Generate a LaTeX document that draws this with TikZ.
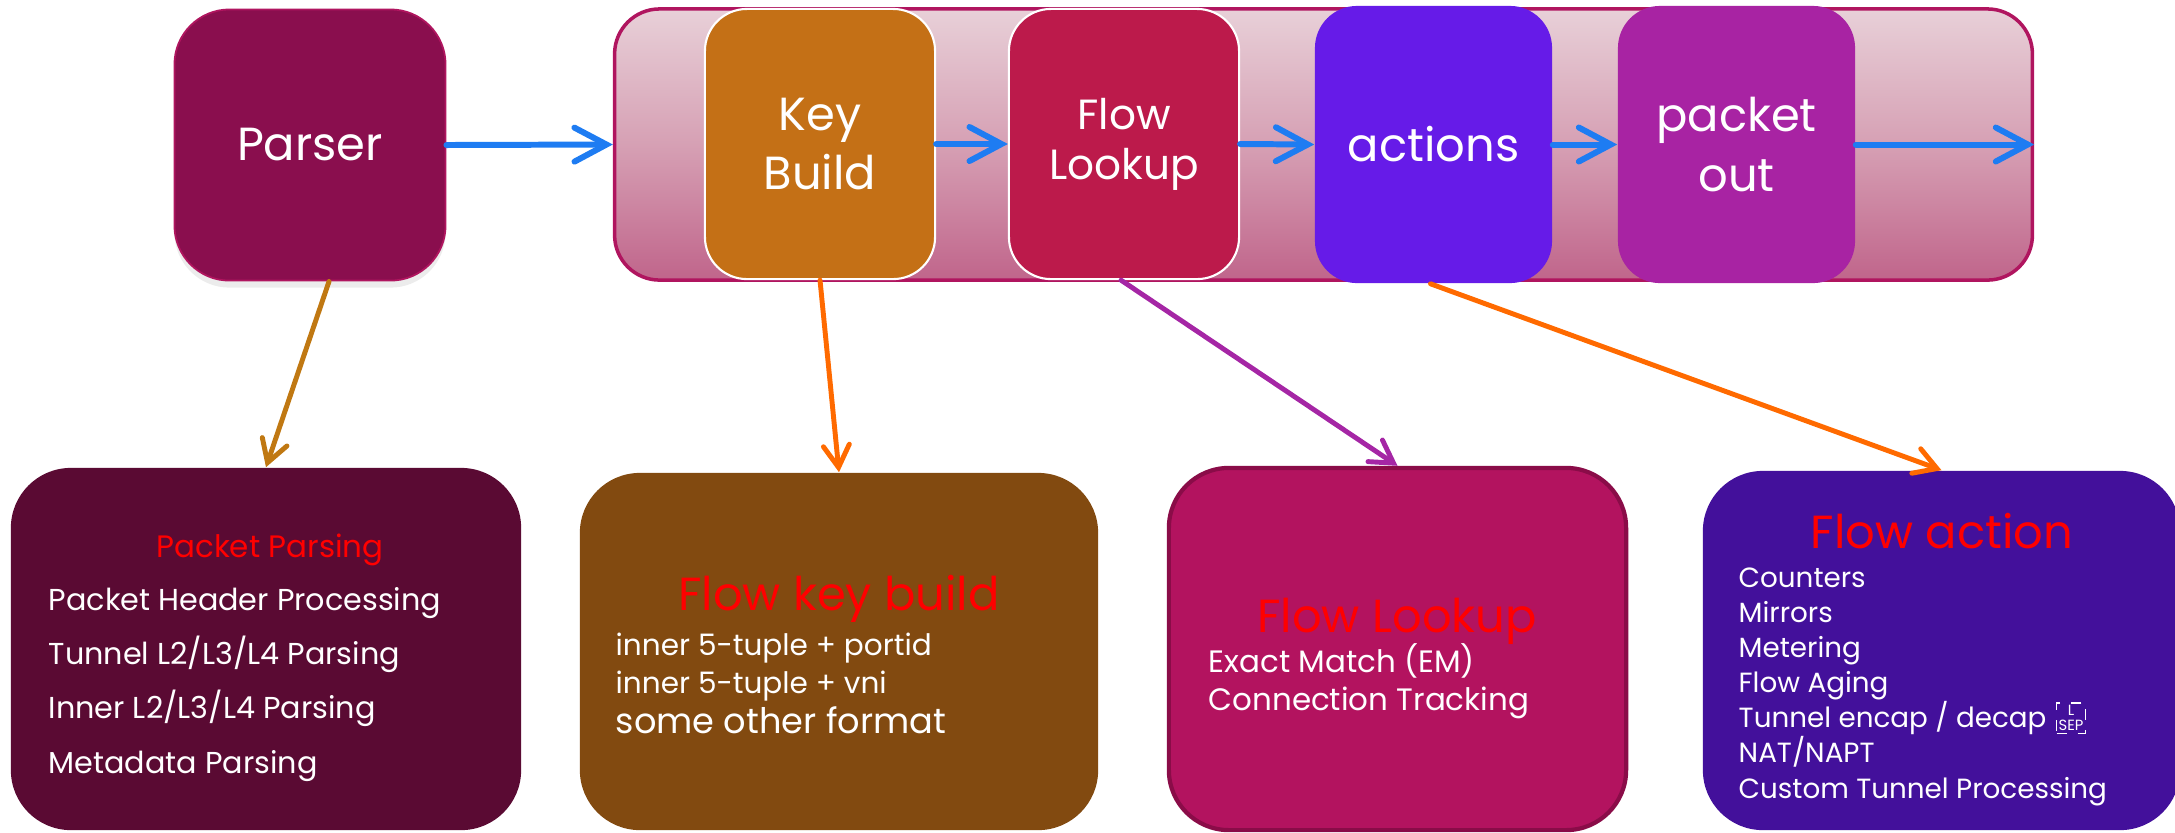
\documentclass[tikz,border=0pt]{standalone}
\usepackage{fontspec}
\setmainfont{Poppins}
\usepackage{tikz}
\usetikzlibrary{arrows.meta, positioning, calc, shadows}

\definecolor{parserplum}{RGB}{138, 14, 78}
\definecolor{railtop}{RGB}{232, 208, 216}
\definecolor{railmid}{RGB}{214, 160, 180}
\definecolor{railbot}{RGB}{192, 101, 139}
\definecolor{railedge}{RGB}{176, 21, 95}
\definecolor{keyorange}{RGB}{196, 112, 22}
\definecolor{lookupred}{RGB}{188, 26, 75}
\definecolor{actviolet}{RGB}{102, 27, 232}
\definecolor{outpurple}{RGB}{168, 35, 163}
\definecolor{flowblue}{RGB}{30, 124, 242}
\definecolor{ppwine}{RGB}{90, 10, 51}
\definecolor{fkbrown}{RGB}{130, 74, 16}
\definecolor{flmagenta}{RGB}{179, 19, 95}
\definecolor{fledge}{RGB}{138, 12, 72}
\definecolor{faindigo}{RGB}{67, 16, 155}
\definecolor{goldlink}{RGB}{192, 120, 18}
\definecolor{orangelink}{RGB}{255, 106, 0}
\definecolor{purplelink}{RGB}{165, 38, 165}
\definecolor{titlered}{RGB}{255, 0, 0}

\begin{document}
\begin{tikzpicture}[x=0.01cm, y=-0.01cm,
  stage/.style={rounded corners=0.42cm, inner sep=0pt, text=white, align=center,
    minimum width=2.30cm, minimum height=2.70cm, font=\fontsize{13.2}{16.8}\selectfont},
  detail/.style={rounded corners=0.6cm, inner sep=0pt},
  heading/.style={text=titlered, inner sep=0pt, anchor=base, font=\fontsize{13.2}{16}\selectfont},
  items/.style={text=white, inner sep=0pt, anchor=base west, align=left},
  pipe/.style={draw=flowblue, line width=1.7pt, line cap=round,
    -{Straight Barb[length=3.2mm, width=3.4mm, line cap=round]}},
  link/.style={line width=1.4pt, line cap=round,
    -{Straight Barb[length=2.2mm, width=2.6mm, line cap=round]}}]

  \useasboundingbox (0,0) rectangle (2175,832);

  % top row
  \node[stage, fill=parserplum, draw=railedge, line width=0.5pt, rounded corners=0.55cm,
    minimum width=2.71cm, minimum height=2.71cm,
    drop shadow={opacity=0.15, shadow xshift=0pt, shadow yshift=-2pt}] (parser) at (310,145) {Parser};

  \node[draw=railedge, line width=1pt, rounded corners=0.45cm, minimum width=14.17cm, minimum height=2.71cm,
    top color=railtop, bottom color=railbot, middle color=railmid, inner sep=0pt] (rail) at (1323.5,144.5) {};

  \node[stage, fill=keyorange, draw=white, line width=0.6pt] (keybuild) at (820,144) {Key\\Build};
  \node[stage, fill=lookupred, draw=white, line width=0.6pt, font=\fontsize{12}{14.2}\selectfont] (lookup) at (1124,144) {Flow\\Lookup};
  \node[stage, fill=actviolet, minimum width=2.37cm, minimum height=2.77cm] (actions) at (1433.5,144.5) {actions};
  \node[stage, fill=outpurple, minimum width=2.37cm, minimum height=2.77cm] (pktout) at (1736.5,144.5) {packet\\out};

  \draw[pipe] (parser.east) -- (rail.west);
  \draw[pipe] (keybuild.east) -- (lookup.west);
  \draw[pipe] (lookup.east) -- (actions.west);
  \draw[pipe] (actions.east) -- (pktout.west);
  \draw[pipe] (pktout.east) -- (rail.east);

  % bottom row
  \node[detail, fill=ppwine, minimum width=5.10cm, minimum height=3.62cm] (parsing) at (266,649) {};
  \node[detail, fill=fkbrown, minimum width=5.18cm, minimum height=3.57cm] (keyinfo) at (839,651.5) {};
  \node[detail, fill=flmagenta, draw=fledge, line width=1.2pt, minimum width=4.57cm, minimum height=3.62cm] (lookupinfo) at (1397.5,649) {};
  \node[detail, fill=faindigo, minimum width=4.77cm, minimum height=3.59cm] (actioninfo) at (1941.5,650.5) {};

  \node[heading, font=\fontsize{8.8}{11}\selectfont] (ppttl) at (270,557) {Packet Parsing};
  \node[items, font=\fontsize{8.6}{15.4}\selectfont] (ppitems) at (48,773)
    {Packet Header Processing\\Tunnel L2/L3/L4 Parsing\\Inner L2/L3/L4 Parsing\\Metadata Parsing};

  \node[heading] (fkttl) at (839,610) {Flow key build};
  \node[items, font=\fontsize{8.4}{10.8}\selectfont] (fkitems) at (615,733)
    {inner 5-tuple + portid\\inner 5-tuple + vni\\[0.5pt]{\fontsize{10}{12}\selectfont some other format}};

  \node[heading] (flttl) at (1397,632) {Flow Lookup};
  \node[items, font=\fontsize{8.8}{10.8}\selectfont] (flitems) at (1208,710)
    {Exact Match (EM)\\Connection Tracking};

  \node[heading] (fattl) at (1942,548) {Flow action};
  \node[items, font=\fontsize{7.9}{10}\selectfont] (faitems) at (1738,798)
    {Counters\\Mirrors\\Metering\\Flow Aging\\Tunnel encap / decap\\NAT/NAPT\\Custom Tunnel Processing};
  \node[draw=white, dashed, line width=0.3pt, inner sep=0.6pt, text=white, align=center,
    font=\fontsize{4.2}{4.4}\selectfont] (lsep) at (2071,718) {L\\SEP};

  \draw[link, draw=goldlink] ([xshift=0.19cm]parser.south) -- (parsing.north);
  \draw[link, draw=orangelink] (keybuild.south) -- (keyinfo.north);
  \draw[link, draw=purplelink] ([xshift=-0.03cm]lookup.south) -- (lookupinfo.north);
  \draw[link, draw=orangelink] ([xshift=-0.03cm]actions.south) -- (actioninfo.north);
\end{tikzpicture}
\end{document}
